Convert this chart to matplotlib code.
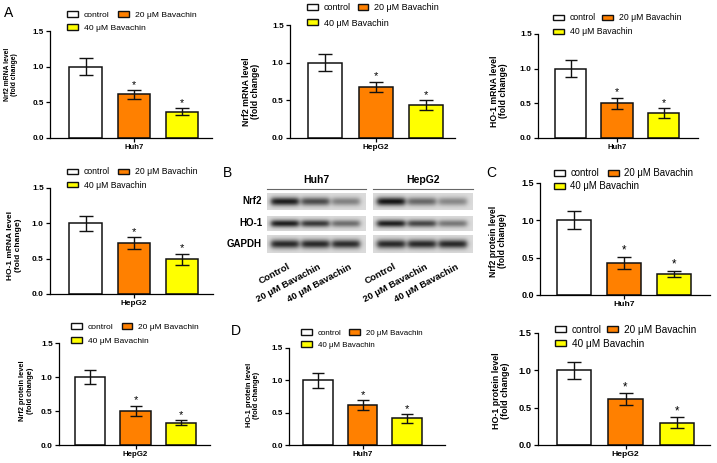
import numpy as np
import matplotlib
matplotlib.use('Agg')
import matplotlib.pyplot as plt
from matplotlib.patches import Patch
from matplotlib.ticker import FormatStrFormatter

plt.rcParams['font.family'] = ['Liberation Sans', 'DejaVu Sans']

W, H = 717, 463  # figure size in pixels

# groups and colours
groups = ['control', '20 \u03bcM Bavachin', '40 \u03bcM Bavachin']
bar_colors = ['white', '#FF8000', '#FFFF00']

# fold change values (mean, error)
nrf2_mrna_huh7 = [1.00, 0.61, 0.37]
nrf2_mrna_huh7_err = [0.12, 0.06, 0.045]
nrf2_mrna_hepg2 = [1.00, 0.68, 0.44]
nrf2_mrna_hepg2_err = [0.11, 0.07, 0.065]
ho1_mrna_huh7 = [1.00, 0.50, 0.36]
ho1_mrna_huh7_err = [0.12, 0.08, 0.07]
ho1_mrna_hepg2 = [1.00, 0.72, 0.49]
ho1_mrna_hepg2_err = [0.11, 0.08, 0.08]
nrf2_prot_huh7 = [1.00, 0.43, 0.28]
nrf2_prot_huh7_err = [0.12, 0.085, 0.04]
nrf2_prot_hepg2 = [1.00, 0.50, 0.33]
nrf2_prot_hepg2_err = [0.11, 0.075, 0.035]
ho1_prot_huh7 = [1.00, 0.62, 0.41]
ho1_prot_huh7_err = [0.12, 0.075, 0.07]
ho1_prot_hepg2 = [1.00, 0.61, 0.30]
ho1_prot_hepg2_err = [0.11, 0.08, 0.07]

yticks = [0.0, 0.5, 1.0, 1.5]

# western blot (band darkness per lane, 0 = none, 1 = black)
blot_rows = ['Nrf2', 'HO-1', 'GAPDH']
blot_cells = ['Huh7', 'HepG2']
blot_lanes = ['Control', '20 \u03bcM Bavachin', '40 \u03bcM Bavachin']
band_huh7 = [[0.95, 0.72, 0.45], [0.95, 0.82, 0.55], [0.90, 0.90, 0.88]]
band_hepg2 = [[1.00, 0.58, 0.42], [0.95, 0.75, 0.50], [0.90, 0.90, 0.90]]

# layout, all in pixels of the reference
# box = (x axis left, x axis right, y of 0.0, y of 1.5)
# fs = (tick, xlabel, ylabel, legend)
# leg = (handle left, row1 y, row2 y, second column handle left)
panels = [
    dict(vals=nrf2_mrna_huh7, errs=nrf2_mrna_huh7_err, ylab='Nrf2 mRNA level\n(fold change)', cell='Huh7',
         box=(50, 212, 138, 31), c1=85.5, sp=48.3, ylab_xy=(11.5, 74.5),
         fs=(5.8, 5.5, 4.9, 6.1), leg=(67, 15, 28, 118)),
    dict(vals=nrf2_mrna_hepg2, errs=nrf2_mrna_hepg2_err, ylab='Nrf2 mRNA level\n(fold change)', cell='HepG2',
         box=(290, 455, 138, 25), c1=325, sp=50.7, ylab_xy=(251, 91.5),
         fs=(6.0, 5.9, 6.3, 6.5), leg=(307, 8, 23, 358)),
    dict(vals=ho1_mrna_huh7, errs=ho1_mrna_huh7_err, ylab='HO-1 mRNA level\n(fold change)', cell='Huh7',
         box=(538, 698, 138, 34), c1=570.5, sp=46.5, ylab_xy=(499, 91),
         fs=(6.0, 5.5, 6.2, 6.2), leg=(553, 18, 32, 602)),
    dict(vals=ho1_mrna_hepg2, errs=ho1_mrna_hepg2_err, ylab='HO-1 mRNA level\n(fold change)', cell='HepG2',
         box=(50, 213, 294, 188), c1=85.5, sp=48.3, ylab_xy=(14.5, 245),
         fs=(6.0, 5.9, 6.0, 6.2), leg=(67, 172, 185, 118)),
    dict(vals=nrf2_prot_huh7, errs=nrf2_prot_huh7_err, ylab='Nrf2 protein level\n(fold change)', cell='Huh7',
         box=(540, 710, 295, 183), c1=574, sp=50, ylab_xy=(498, 241),
         fs=(6.5, 6.1, 6.2, 6.9), leg=(554, 173, 186, 608)),
    dict(vals=nrf2_prot_hepg2, errs=nrf2_prot_hepg2_err, ylab='Nrf2 protein level\n(fold change)', cell='HepG2',
         box=(59, 210, 445, 343), c1=90, sp=45.5, ylab_xy=(26.5, 390.5),
         fs=(6.0, 5.7, 5.3, 6.0), leg=(71, 327, 341, 121)),
    dict(vals=ho1_prot_huh7, errs=ho1_prot_huh7_err, ylab='HO-1 protein level\n(fold change)', cell='Huh7',
         box=(289, 445, 445, 348), c1=318, sp=44.5, ylab_xy=(253, 395),
         fs=(5.8, 5.9, 5.4, 5.7), leg=(301, 333, 345, 349)),
    dict(vals=ho1_prot_hepg2, errs=ho1_prot_hepg2_err, ylab='HO-1 protein level\n(fold change)', cell='HepG2',
         box=(538, 710, 445, 333), c1=574, sp=51.5, ylab_xy=(501, 391),
         fs=(6.7, 6.1, 6.4, 7.2), leg=(555, 330, 344, 607)),
]

fig = plt.figure(figsize=(W / 100, H / 100), dpi=100)

# overlay in pixel coordinates for letters and the blot
over = fig.add_axes([0, 0, 1, 1])
over.axis('off')


def draw_panel(p):
    x0, x1, yb, yt = p['box']
    tfs, xfs, yfs, lfs = p['fs']
    ax = fig.add_axes([x0 / W, 1 - yb / H, (x1 - x0) / W, (yb - yt) / H])
    xs = np.arange(len(groups))
    ax.bar(xs, p['vals'], width=0.67, color=bar_colors, edgecolor='#111111', linewidth=1.1, zorder=2)
    cap = 0.135 * p['sp'] * 0.72
    ax.errorbar(xs, p['vals'], yerr=p['errs'], fmt='none', ecolor='#111111',
                elinewidth=1.0, capsize=cap, capthick=1.0, zorder=3)
    for i in (1, 2):
        ax.text(xs[i], p['vals'][i] + p['errs'][i] + 0.005, '*', ha='center', va='bottom',
                fontsize=xfs + 2.2, zorder=4)
    ax.set_xlim((x0 - p['c1']) / p['sp'], (x1 - p['c1']) / p['sp'])
    ax.set_ylim(0, 1.5)
    ax.set_yticks(yticks)
    ax.yaxis.set_major_formatter(FormatStrFormatter('%.1f'))
    ax.set_xticks([1])
    ax.set_xticklabels([p['cell']])
    for sp_name in ['top', 'right']:
        ax.spines[sp_name].set_visible(False)
    for sp_name in ['left', 'bottom']:
        ax.spines[sp_name].set_linewidth(0.9)
    ax.tick_params(axis='y', length=3, width=0.9, pad=1.5, labelsize=tfs)
    ax.tick_params(axis='x', length=3, width=0.9, pad=1.5, labelsize=xfs)
    for lab in ax.get_yticklabels() + ax.get_xticklabels():
        lab.set_fontweight('bold')
    ax.set_ylabel(p['ylab'], fontsize=yfs, fontweight='bold', va='center', ha='center', linespacing=1.0)
    ax.yaxis.set_label_coords(p['ylab_xy'][0] / W, 1 - p['ylab_xy'][1] / H, transform=fig.transFigure)
    ax.patch.set_alpha(0)

    # legend: row 1 = control, 20 uM ; row 2 = 40 uM
    hx, r1, r2, c2x = p['leg']
    fpx = lfs * 100 / 72
    hlen = 10.5 / fpx
    hpad = 6 / fpx
    handles = [Patch(facecolor=bar_colors[k], edgecolor='#111111', linewidth=1.0) for k in range(3)]
    colsp = (c2x - hx) / fpx - hlen - hpad - 3.0
    common = dict(frameon=False, loc='center left', fontsize=lfs, borderpad=0, borderaxespad=0,
                  handlelength=hlen, handleheight=5.5 / fpx, handletextpad=hpad)
    fig.legend(handles[:2], groups[:2], ncol=2, columnspacing=colsp,
               bbox_to_anchor=(hx / W, 1 - r1 / H), **common)
    fig.legend(handles[2:], groups[2:], bbox_to_anchor=(hx / W, 1 - r2 / H), **common)
    return ax


for p in panels:
    draw_panel(p)

# western blot strips
lane_pos = [0.18, 0.49, 0.80]
cell_x = [(267, 366), (373, 473)]
row_y = [(193, 210), (216, 231), (235, 253)]


def band_strip(darkness, h=40, w=200):
    yy = np.linspace(-1, 1, h)[:, None]
    xx = np.linspace(0, 1, w)[None, :]
    img = np.full((h, w), 0.86)
    for c, d in zip(lane_pos, darkness):
        horiz = 0.5 * (np.tanh((xx - (c - 0.14)) / 0.03) - np.tanh((xx - (c + 0.14)) / 0.03))
        vert = np.exp(-(yy / 0.5) ** 2)
        img = img - 0.78 * d * horiz * vert
    return img


for ci, bands in enumerate([band_huh7, band_hepg2]):
    bx0, bx1 = cell_x[ci]
    for ri, dark in enumerate(bands):
        by0, by1 = row_y[ri]
        over.imshow(band_strip(dark), cmap='gray', vmin=0, vmax=1, extent=(bx0, bx1, by1, by0),
                    aspect='auto', interpolation='bilinear')
    over.plot([bx0, bx1], [188.5, 188.5], color='#666666', lw=0.8)
    over.text((bx0 + bx1) / 2, 180, blot_cells[ci], ha='center', va='center',
              fontsize=7.5, fontweight='bold')
    for li, lane in enumerate(blot_lanes):
        lx = bx0 + lane_pos[li] * (bx1 - bx0) + 5
        over.text(lx, 266, lane, rotation=28, rotation_mode='anchor', ha='right', va='center',
                  fontsize=6.8, fontweight='bold')

for ri, name in enumerate(blot_rows):
    over.text(262, sum(row_y[ri]) / 2, name, ha='right', va='center', fontsize=7, fontweight='bold')

# panel letters
for letter, (lx, ly) in zip('ABCD', [(8.5, 13), (228, 173), (491, 173), (236, 331)]):
    over.text(lx, ly, letter, ha='center', va='center', fontsize=10)

over.set_xlim(0, W)
over.set_ylim(H, 0)

fig.savefig('out.png', dpi=100)
